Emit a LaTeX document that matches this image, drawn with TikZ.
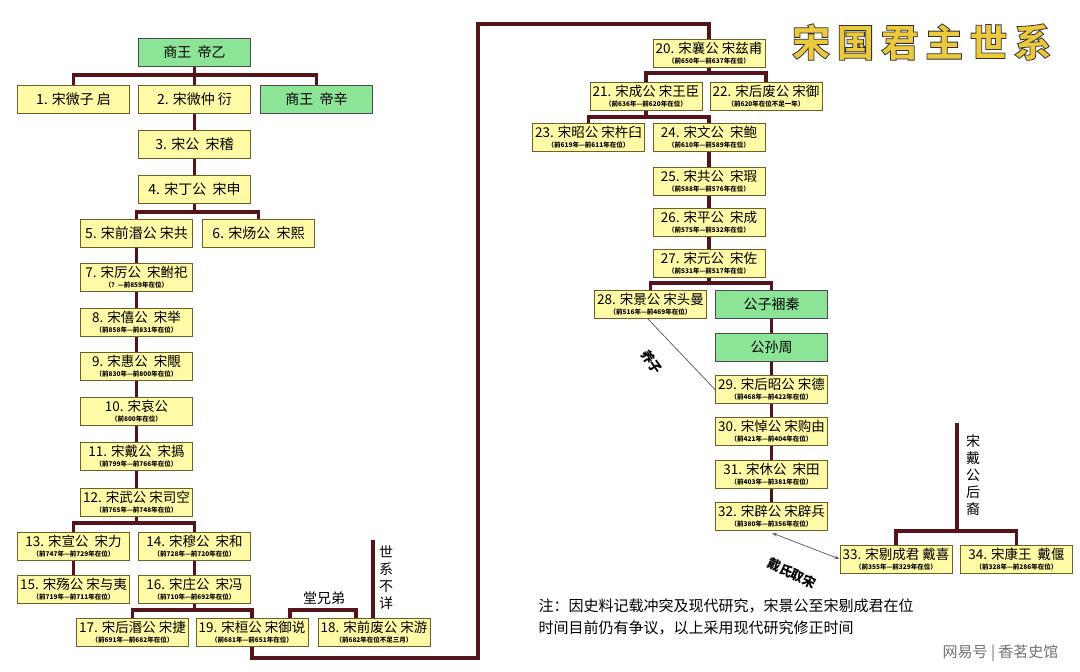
\documentclass[tikz,border=0pt]{standalone}
\usepackage{fontspec}
\setmainfont{Noto Sans CJK SC}
\newfontfamily\cjk{Noto Sans CJK SC}
\usetikzlibrary{arrows.meta}
\definecolor{ln}{RGB}{85,20,25}
\definecolor{yb}{RGB}{255,250,165}
\definecolor{ybd}{RGB}{110,95,40}
\definecolor{gb}{RGB}{140,228,150}
\definecolor{gold}{RGB}{235,200,60}
\newcommand{\nm}[1]{{\fontsize{13.5}{14}\selectfont #1}}
\newcommand{\yr}[1]{{\fontsize{6.5}{7}\selectfont\bfseries #1}}
\begin{document}
\begin{tikzpicture}[x=1pt,y=-1pt,
 box/.style={draw=ybd,line width=1pt,fill=yb,minimum width=112pt,minimum height=28pt,inner sep=0pt,align=center},
 gbox/.style={box,fill=gb,draw=black!70,font=\fontsize{14}{15}\selectfont},
 one/.style={box,font=\fontsize{14}{15}\selectfont},
 two/.style={box,align=center},
 ln/.style={draw=ln,line width=3.2pt},
 thin/.style={draw=black!60,line width=0.8pt},
 vt/.style={align=center,font=\fontsize{14}{17}\selectfont}]
\fill[white] (0,0) rectangle (1080,672);
\useasboundingbox (0,0) rectangle (1080,672);
% left column
\node[gbox] (a0) at (194.5,52) {商王\ \ 帝乙};
\node[one] (a1) at (73.5,99) {1. 宋微子\ 启};
\node[one] (a2) at (194.5,99) {2. 宋微仲\ 衍};
\node[gbox] (ax) at (316.5,99) {商王\ \ 帝辛};
\node[one] (a3) at (194.5,144) {3. 宋公\ \ 宋稽};
\node[one] (a4) at (194.5,189) {4. 宋丁公\ \ 宋申};
\node[one] (a5) at (136.5,233) {5. 宋前湣公\ 宋共};
\node[one] (a6) at (258.5,233) {6. 宋炀公\ \ 宋熙};
\node[two] (a7) at (136.5,277.5) {\nm{7. 宋厉公\ \ 宋鲋祀}\\[-2pt]\yr{（？—前859年在位）}};
\node[two] (a8) at (136.5,322.5) {\nm{8. 宋僖公\ \ 宋举}\\[-2pt]\yr{（前858年—前831年在位）}};
\node[two] (a9) at (136.5,366.5) {\nm{9. 宋惠公\ \ 宋覸}\\[-2pt]\yr{（前830年—前800年在位）}};
\node[two] (a10) at (136.5,411) {\nm{10. 宋哀公}\\[-2pt]\yr{（前800年在位）}};
\node[two] (a11) at (136.5,456) {\nm{11. 宋戴公\ \ 宋撝}\\[-2pt]\yr{（前799年—前766年在位）}};
\node[two] (a12) at (136.5,502) {\nm{12. 宋武公\ 宋司空}\\[-2pt]\yr{（前765年—前748年在位）}};
\node[two] (a13) at (73.5,546) {\nm{13. 宋宣公\ \ 宋力}\\[-2pt]\yr{（前747年—前729年在位）}};
\node[two] (a14) at (194.5,546) {\nm{14. 宋穆公\ \ 宋和}\\[-2pt]\yr{（前728年—前720年在位）}};
\node[two] (a15) at (73.5,589) {\nm{15. 宋殇公\ 宋与夷}\\[-2pt]\yr{（前719年—前711年在位）}};
\node[two] (a16) at (194.5,589) {\nm{16. 宋庄公\ \ 宋冯}\\[-2pt]\yr{（前710年—前692年在位）}};
\node[two] (a17) at (132.5,632.5) {\nm{17. 宋后湣公\ 宋捷}\\[-2pt]\yr{（前691年—前682年在位）}};
\node[two] (a19) at (252,632.5) {\nm{19. 宋桓公\ 宋御说}\\[-2pt]\yr{（前681年—前651年在位）}};
\node[two] (a18) at (374,632.5) {\nm{18. 宋前废公\ 宋游}\\[-2pt]\yr{（前682年在位不足三月）}};
% right column
\node[two] (b20) at (709,53.5) {\nm{20. 宋襄公\ 宋兹甫}\\[-2pt]\yr{（前650年—前637年在位）}};
\node[two] (b21) at (646,96) {\nm{21. 宋成公\ 宋王臣}\\[-2pt]\yr{（前636年—前620年在位）}};
\node[two] (b22) at (766,96) {\nm{22. 宋后废公\ 宋御}\\[-2pt]\yr{（前620年在位不足一年）}};
\node[two] (b23) at (588.5,137) {\nm{23. 宋昭公\ 宋杵臼}\\[-2pt]\yr{（前619年—前611年在位）}};
\node[two] (b24) at (709,137) {\nm{24. 宋文公\ \ 宋鲍}\\[-2pt]\yr{（前610年—前589年在位）}};
\node[two] (b25) at (709,181) {\nm{25. 宋共公\ \ 宋瑕}\\[-2pt]\yr{（前588年—前576年在位）}};
\node[two] (b26) at (709,222.5) {\nm{26. 宋平公\ \ 宋成}\\[-2pt]\yr{（前575年—前532年在位）}};
\node[two] (b27) at (709,263.5) {\nm{27. 宋元公\ \ 宋佐}\\[-2pt]\yr{（前531年—前517年在位）}};
\node[two] (b28) at (650.5,304.5) {\nm{28. 宋景公\ 宋头曼}\\[-2pt]\yr{（前516年—前469年在位）}};
\node[gbox] (bq) at (771.5,304.5) {公子裍秦};
\node[gbox] (bz) at (771.5,347) {公孙周};
\node[two] (b29) at (771.5,389.5) {\nm{29. 宋后昭公\ 宋德}\\[-2pt]\yr{（前468年—前422年在位）}};
\node[two] (b30) at (771.5,431) {\nm{30. 宋悼公\ 宋购由}\\[-2pt]\yr{（前421年—前404年在位）}};
\node[two] (b31) at (771.5,474) {\nm{31. 宋休公\ \ 宋田}\\[-2pt]\yr{（前403年—前381年在位）}};
\node[two] (b32) at (771.5,516.5) {\nm{32. 宋辟公\ 宋辟兵}\\[-2pt]\yr{（前380年—前356年在位）}};
\node[two] (b33) at (896,559) {\nm{33. 宋剔成君\ 戴喜}\\[-2pt]\yr{（前355年—前329年在位）}};
\node[two] (b34) at (1016.5,559) {\nm{34. 宋康王\ \ 戴偃}\\[-2pt]\yr{（前328年—前286年在位）}};
% connectors left
\draw[ln] (a0.south) -- (a0.south |- 0,75);
\draw[ln] (a1.north) |- (ax.north |- 0,75) -- (ax.north);
\draw[ln] (a2.north) -- (a2.north |- 0,75);
\draw[ln] (a2) -- (a3); \draw[ln] (a3) -- (a4);
\draw[ln] (a4.south) -- (a4.south |- 0,212);
\draw[ln] (a5.north) |- (a6.north |- 0,212) -- (a6.north);
\draw[ln] (a5) -- (a7); \draw[ln] (a7) -- (a8); \draw[ln] (a8) -- (a9);
\draw[ln] (a9) -- (a10); \draw[ln] (a10) -- (a11); \draw[ln] (a11) -- (a12);
\draw[ln] (a12.south) -- (a12.south |- 0,523);
\draw[ln] (a13.north) |- (a14.north |- 0,523) -- (a14.north);
\draw[ln] (a13) -- (a15); \draw[ln] (a14) -- (a16);
\draw[ln] (a16.south) -- (a16.south |- 0,610);
\draw[ln] (a17.north) |- (a19.north |- 0,610) -- (a19.north);
\coordinate (c1) at (290,618); \coordinate (c2) at (356,618);
\draw[ln] (c1) -- (290,610) -- (356,610) -- (c2);
\node[font=\fontsize{14}{15}\selectfont] (tx) at (324,598) {堂兄弟};
\coordinate (s1) at (373,540);
\draw[ln] (s1) -- (a18.north -| s1);
\node[vt] (sx) at (386,578) {世\\系\\不\\详};
\draw[ln] (a19.south) -- (a19.south |- 0,658) -- (478,658) -- (478,24) -- (b20.north |- 0,24) -- (b20.north);
% connectors right
\draw[ln] (b20.south) -- (b20.south |- 0,73);
\draw[ln] (b21.north) |- (b22.north |- 0,73) -- (b22.north);
\draw[ln] (b21.south) -- (b21.south |- 0,117);
\draw[ln] (b23.north) |- (b24.north |- 0,117) -- (b24.north);
\draw[ln] (b24) -- (b25); \draw[ln] (b25) -- (b26); \draw[ln] (b26) -- (b27);
\draw[ln] (b27.south) -- (b27.south |- 0,283);
\draw[ln] (b28.north) |- (bq.north |- 0,283) -- (bq.north);
\draw[ln] (bq) -- (bz); \draw[ln] (bz) -- (b29); \draw[ln] (b29) -- (b30);
\draw[ln] (b30) -- (b31); \draw[ln] (b31) -- (b32);
\coordinate (d1) at (957,423);
\draw[ln] (d1) -- (957,531);
\draw[ln] (b33.north) |- (b34.north |- 0,531) -- (b34.north);
\node[vt] (dx) at (973,475) {宋\\戴\\公\\后\\裔};
\draw[thin] (648,319) -- (b29.west);
\node[font=\fontsize{13}{14}\selectfont\bfseries,rotate=-55] (yz) at (652,362) {养子};
\coordinate (e1) at (772,533);
\draw[thin,{Stealth[length=5pt]}-{Stealth[length=5pt]}] (e1) -- (b33.west);
\node[font=\fontsize{13}{14}\selectfont\bfseries,rotate=-25] (dq) at (792,573) {戴氏取宋};
% title and notes
\node[font=\fontsize{38}{40}\selectfont\bfseries,text=gold] (title) at (922,42) {\pgfsetstrokecolor{black!80}\pgfsetlinewidth{0.8pt}\special{pdf:literal 2 Tr}宋\,国\,君\,主\,世\,系\special{pdf:literal 0 Tr}};
\node[anchor=west,align=left,font=\fontsize{15}{22}\selectfont] (note) at (535,617) {注：因史料记载冲突及现代研究，宋景公至宋剔成君在位\\时间目前仍有争议，以上采用现代研究修正时间};
\node[anchor=east,text=black!55,font=\fontsize{15}{16}\selectfont] (wm) at (1062,653) {网易号\ \textbar\ 香茗史馆};
\end{tikzpicture}
\end{document}
